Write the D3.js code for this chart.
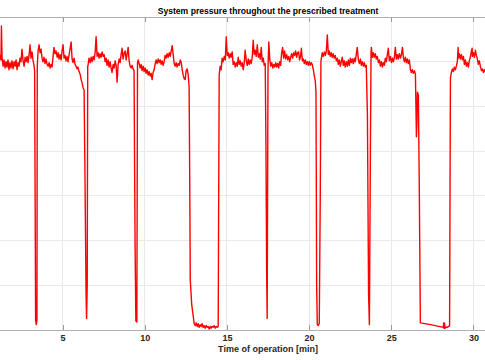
<!DOCTYPE html>
<html>
<head>
<meta charset="utf-8">
<script src="https://cdn.jsdelivr.net/npm/d3@7"></script>
<style>
html,body{margin:0;padding:0;background:#fff;}
svg{display:block;}
</style>
</head>
<body>
<svg id="chart" width="485" height="360"></svg>
<script>
const chartTitle = "System pressure throughout the prescribed treatment";
const xLabel = "Time of operation [min]";
const xTicks = [0, 5, 10, 15, 20, 25, 30, 35];
const yTicks = [0, 0.5, 1, 1.5, 2, 2.5, 3, 3.5];
const xDomain = [0, 35];
const yDomain = [0, 3.5];

// [time (min), pressure (bar)]
const pressureSeries = [
[1.10,3.05],[1.19,3.07],[1.25,3.02],[1.28,3.40],[1.32,3.04],[1.38,2.95],[1.44,3.02],[1.50,2.93],[1.56,3.00],[1.62,2.94],[1.68,3.02],[1.74,2.91],[1.80,2.99],[1.86,2.93],[1.92,3.01],[1.99,2.92],[2.05,3.00],[2.11,2.95],[2.17,3.02],[2.23,2.91],[2.29,2.99],[2.35,2.95],[2.41,3.04],[2.47,3.00],[2.53,3.14],[2.59,3.02],[2.66,2.95],[2.72,3.05],[2.78,3.00],[2.84,3.06],[2.90,2.99],[2.96,3.07],[3.02,3.19],[3.08,3.04],[3.14,3.11],[3.20,3.02],[3.26,2.96],
[3.30,2.90],[3.36,0.11],[3.40,0.06],[3.44,0.11],[3.46,2.95],
[3.51,3.12],[3.57,3.19],[3.63,3.10],[3.69,3.14],[3.75,3.04],[3.81,3.00],[3.87,3.05],[3.93,2.98],[3.99,3.03],[4.06,2.97],[4.12,2.95],[4.18,2.99],[4.24,2.93],[4.30,2.97],[4.36,2.94],[4.42,3.06],[4.48,3.16],[4.54,3.09],[4.60,3.12],[4.67,3.05],[4.73,3.10],[4.79,3.03],[4.85,3.08],[4.91,3.02],[4.97,3.12],[5.03,3.19],[5.09,3.04],[5.15,3.07],[5.21,3.01],[5.27,3.06],[5.33,3.00],[5.40,3.08],[5.46,3.15],[5.52,3.22],[5.58,3.03],[5.64,2.99],[5.70,3.04],[5.76,2.97],[5.82,2.95],[5.88,2.92],[5.94,2.94],[6.00,2.89],[6.07,2.86],[6.13,2.80],[6.19,2.76],[6.25,2.71],[6.31,2.68],
[6.37,1.60],[6.43,0.40],[6.46,0.13],[6.50,0.50],[6.53,2.95],
[6.55,2.96],[6.61,3.04],[6.68,2.99],[6.74,3.05],[6.80,3.00],[6.86,3.06],[6.92,3.02],[6.98,3.10],[7.04,3.28],[7.10,3.06],[7.16,3.10],[7.22,3.04],[7.28,3.09],[7.34,3.05],[7.41,3.11],[7.47,3.06],[7.53,3.08],[7.59,3.00],[7.65,3.04],[7.71,2.96],[7.77,3.02],[7.83,2.94],[7.89,3.00],[7.95,2.93],[8.01,2.88],[8.08,2.97],[8.14,2.93],[8.20,3.01],[8.26,2.96],[8.32,2.77],[8.38,2.97],[8.44,3.03],[8.50,2.99],[8.56,3.08],[8.62,3.15],[8.68,3.03],[8.75,3.10],[8.81,3.12],[8.87,3.02],[8.93,3.09],[8.99,3.16],[9.05,3.01],[9.11,2.95],[9.17,2.93],[9.23,2.96],[9.29,2.92],
[9.35,2.90],[9.41,1.00],[9.46,0.10],[9.52,0.09],[9.56,2.99],
[9.60,3.02],[9.66,2.98],[9.72,2.93],[9.78,2.97],[9.84,2.90],[9.90,2.95],[9.96,2.89],[10.02,2.93],[10.08,2.87],[10.14,2.91],[10.21,2.85],[10.27,2.89],[10.33,2.84],[10.39,2.87],[10.45,2.80],[10.51,2.88],[10.57,2.91],[10.63,2.97],[10.69,3.02],[10.75,2.98],[10.82,3.03],[10.88,2.99],[10.94,3.02],[11.00,2.97],[11.06,3.01],[11.12,2.96],[11.18,3.00],[11.24,3.07],[11.30,3.04],[11.36,3.09],[11.42,3.05],[11.49,3.10],[11.55,3.06],[11.61,3.12],[11.67,3.18],[11.73,3.08],[11.79,2.98],[11.85,2.95],[11.91,2.99],[11.97,2.94],[12.03,2.98],[12.10,2.96],[12.16,3.02],[12.22,2.99],[12.28,2.91],[12.34,2.85],[12.40,2.81],[12.46,2.80],[12.52,2.90],[12.58,2.92],[12.64,2.86],[12.70,2.72],
[12.74,1.60],[12.77,0.56],[12.86,0.28],[13.01,0.07],
[13.07,0.05],[13.13,0.08],[13.19,0.04],[13.25,0.07],[13.31,0.03],[13.37,0.06],[13.43,0.04],[13.49,0.07],[13.55,0.03],[13.61,0.05],[13.68,0.02],[13.74,0.05],[13.80,0.03],[13.86,0.04],[13.92,0.01],[13.98,0.04],[14.04,0.02],[14.10,0.04],[14.16,0.03],[14.22,0.05],[14.29,0.02],[14.35,0.04],[14.41,0.03],[14.47,0.04],
[14.50,1.50],[14.53,2.85],[14.59,2.95],[14.65,2.91],[14.71,3.04],[14.77,3.00],[14.84,3.06],[14.90,3.02],[14.96,3.28],[15.02,3.07],[15.08,3.10],[15.14,3.04],[15.20,3.09],[15.26,3.05],[15.32,3.11],[15.38,2.97],[15.44,3.00],[15.51,2.94],[15.57,2.99],[15.63,2.95],[15.69,3.05],[15.75,2.97],[15.81,3.01],[15.87,2.95],[15.93,2.99],[15.99,2.91],[16.05,2.98],[16.11,3.13],[16.18,3.01],[16.24,2.96],[16.30,3.03],[16.36,2.97],[16.42,3.02],[16.48,2.98],[16.54,3.05],[16.60,3.24],[16.66,3.08],[16.72,3.13],[16.78,3.06],[16.85,3.19],[16.91,3.05],[16.97,3.09],[17.03,3.03],[17.09,3.16],[17.15,3.00],[17.21,3.04],[17.27,2.96],[17.33,2.98],
[17.37,2.20],[17.42,0.60],[17.45,0.13],[17.50,2.90],
[17.51,3.00],[17.55,3.22],[17.61,3.02],[17.67,2.95],[17.73,2.99],[17.79,2.93],[17.85,2.97],[17.91,2.94],[17.97,2.99],[18.03,2.94],[18.09,2.98],[18.15,2.93],[18.21,3.00],[18.27,2.96],[18.33,3.10],[18.39,3.16],[18.45,3.04],[18.51,3.12],[18.57,3.03],[18.64,3.08],[18.70,3.02],[18.76,3.06],[18.82,3.00],[18.88,3.05],[18.94,3.09],[19.00,3.04],[19.06,3.10],[19.12,3.07],[19.18,3.12],[19.24,3.05],[19.30,3.10],[19.36,3.11],[19.42,3.02],[19.48,3.06],[19.53,3.15],[19.59,3.01],[19.65,3.03],[19.71,2.98],[19.77,3.02],[19.83,2.97],[19.89,3.00],[19.95,2.96],[20.01,3.00],[20.07,2.96],[20.13,2.99],[20.19,2.97],[20.26,2.91],[20.32,2.84],[20.38,2.78],[20.42,2.66],
[20.46,0.50],[20.50,0.06],[20.56,0.05],[20.62,0.07],[20.68,1.50],[20.72,3.00],
[20.74,3.03],[20.80,3.10],[20.86,3.06],[20.93,3.11],[20.99,3.07],[21.05,3.12],[21.11,3.30],[21.17,3.08],[21.23,3.12],[21.29,3.06],[21.35,3.10],[21.41,3.05],[21.47,3.09],[21.53,3.04],[21.59,3.07],[21.66,3.01],[21.72,3.04],[21.78,2.97],[21.84,3.02],[21.90,2.95],[21.96,3.00],[22.02,3.05],[22.08,2.96],[22.14,3.01],[22.20,2.94],[22.27,3.00],[22.33,2.95],[22.39,3.02],[22.45,2.96],[22.51,3.04],[22.57,2.99],[22.63,3.03],[22.69,2.98],[22.75,3.04],[22.81,3.00],[22.87,3.08],[22.93,3.16],[23.00,3.02],[23.06,2.98],[23.12,3.03],[23.18,2.96],[23.24,3.00],[23.30,2.95],[23.36,2.99],[23.42,2.94],[23.48,2.96],
[23.55,2.40],[23.62,0.40],[23.67,0.06],[23.73,2.00],[23.77,3.10],
[23.79,3.16],[23.85,3.05],[23.91,3.10],[23.97,3.05],[24.03,3.09],[24.09,3.03],[24.15,3.06],[24.22,2.99],[24.28,3.02],[24.34,2.95],[24.40,3.00],[24.46,2.94],[24.52,2.99],[24.58,2.96],[24.64,3.04],[24.70,3.00],[24.76,3.08],[24.82,3.15],[24.88,3.01],[24.95,3.06],[25.01,2.99],[25.07,3.04],[25.13,3.00],[25.19,3.05],[25.25,3.16],[25.31,3.03],[25.37,3.08],[25.43,3.03],[25.49,3.09],[25.56,3.04],[25.62,3.08],[25.68,3.16],[25.74,3.04],[25.80,3.00],[25.86,3.05],[25.92,2.99],[25.98,3.03],[26.04,2.98],[26.10,3.02],[26.16,2.92],[26.22,2.88],[26.28,2.91],[26.34,2.87],[26.41,2.90],[26.47,2.86],
[26.53,2.16],[26.56,2.30],[26.59,2.66],[26.65,2.63],[26.71,1.50],[26.77,0.08],
[27.40,0.06],[28.17,0.03],[28.19,0.08],[28.21,0.02],[28.24,0.08],[28.27,0.02],[28.31,0.03],[28.40,0.03],[28.50,0.04],[28.55,0.05],
[28.57,1.20],[28.60,2.82],[28.66,2.88],[28.72,2.92],[28.78,2.89],[28.84,2.94],[28.90,2.91],[28.96,2.95],[29.02,3.00],[29.07,3.16],[29.09,3.04],[29.15,3.09],[29.21,3.03],[29.27,3.08],[29.33,3.02],[29.39,3.06],[29.45,2.97],[29.51,3.02],[29.57,2.95],[29.63,2.99],[29.69,2.94],[29.75,3.01],[29.82,3.06],[29.88,3.12],[29.92,3.15],[29.94,3.06],[30.00,3.10],[30.06,3.05],[30.12,3.13],[30.18,3.07],[30.24,3.03],[30.30,2.97],[30.36,3.01],[30.43,2.94],[30.49,2.90],[30.55,2.92],[30.61,2.88],[30.67,2.91],[30.73,2.89],[30.80,2.90]
];

const W = 485, H = 360;
const plot = {left: -19.6, right: 555.6, top: 17, bottom: 330};

const svg = d3.select("#chart");
const x = d3.scaleLinear().domain(xDomain).range([plot.left, plot.right]);
const y = d3.scaleLinear().domain(yDomain).range([plot.bottom, plot.top]);

const font = "'Liberation Sans', Arial, Helvetica, sans-serif";

// grid
svg.append("g").selectAll("line.vg").data(xTicks).enter().append("line")
  .attr("x1", d => x(d)).attr("x2", d => x(d))
  .attr("y1", plot.top).attr("y2", plot.bottom)
  .attr("stroke", "#e9e9e9").attr("stroke-width", 1).attr("shape-rendering", "crispEdges");
svg.append("g").selectAll("line.hg").data(yTicks).enter().append("line")
  .attr("x1", plot.left).attr("x2", plot.right)
  .attr("y1", d => y(d)).attr("y2", d => y(d))
  .attr("stroke", "#e9e9e9").attr("stroke-width", 1).attr("shape-rendering", "crispEdges");

// data line
svg.append("defs").append("clipPath").attr("id", "clip")
  .append("rect").attr("x", plot.left).attr("y", plot.top)
  .attr("width", plot.right - plot.left).attr("height", plot.bottom - plot.top);

const line = d3.line().x(d => x(d[0])).y(d => y(d[1]));
svg.append("path").datum(pressureSeries)
  .attr("clip-path", "url(#clip)")
  .attr("d", line)
  .attr("fill", "none")
  .attr("stroke", "#ff0000")
  .attr("stroke-width", 1.4)
  .attr("stroke-linejoin", "round");

// axes
const axB = svg.append("g").attr("transform", `translate(0,${plot.bottom})`)
  .call(d3.axisBottom(x).tickValues(xTicks.filter(d => d > 0 && d < 35)).tickSizeInner(-5).tickSizeOuter(0).tickPadding(5).tickFormat(d3.format("d")));
axB.select(".domain").attr("stroke", "#b0b0b0").attr("shape-rendering", "crispEdges");
axB.selectAll(".tick line").attr("stroke", "#9a9a9a").attr("shape-rendering", "crispEdges");
axB.selectAll(".tick text").attr("fill", "#262626").attr("font-family", font)
  .attr("font-size", 9).attr("font-weight", "bold");

const axT = svg.append("g").attr("transform", `translate(0,${plot.top})`)
  .call(d3.axisTop(x).tickValues(xTicks.filter(d => d > 0 && d < 35)).tickSizeInner(-5).tickSizeOuter(0).tickFormat(""));
axT.select(".domain").attr("stroke", "#b0b0b0").attr("shape-rendering", "crispEdges");
axT.selectAll(".tick line").attr("stroke", "#9a9a9a").attr("shape-rendering", "crispEdges");

// title and label
const cx = (plot.left + plot.right) / 2;
svg.append("text").attr("x", cx).attr("y", 14)
  .attr("text-anchor", "middle").attr("font-family", font)
  .attr("font-size", 8.6).attr("font-weight", "bold").attr("fill", "#000")
  .text(chartTitle);
svg.append("text").attr("x", cx).attr("y", 352)
  .attr("text-anchor", "middle").attr("font-family", font)
  .attr("font-size", 9).attr("font-weight", "bold").attr("fill", "#262626")
  .text(xLabel);
</script>
</body>
</html>
